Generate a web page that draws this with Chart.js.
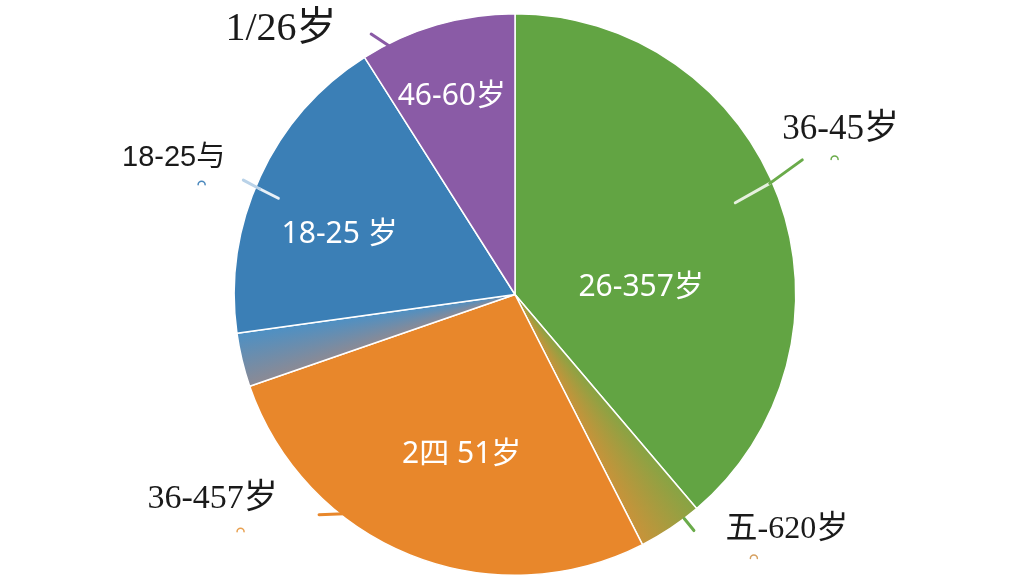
<!DOCTYPE html>
<html>
<head>
<meta charset="utf-8">
<script src="https://cdn.jsdelivr.net/npm/chart.js@4.4.1/dist/chart.umd.min.js"></script>
<style>
  html, body { margin: 0; padding: 0; background: #fff; }
  #wrap { width: 1024px; height: 576px; position: relative; }
</style>
</head>
<body>
<div id="wrap"><canvas id="age-pie"></canvas></div>
<script>
// slices, clockwise from 12 o'clock
const sliceNames = ["26-357岁", "五-620岁", "2四 51岁", "", "18-25 岁", "46-60岁"];
const shares = [38.8, 3.7, 27.2, 3.1, 18.2, 9.0];
const innerLabels = ["26-357岁", "", "2四 51岁", "", "18-25 岁", "46-60岁"];
const outerLabels = ["36-45岁", "五-620岁", "36-457岁", "", "18-25与", "1/26岁"];

const COLORS = {
  GREEN: "#62a443",
  ORANGE: "#e8872b",
  BLUE: "#3b7fb6",
  PURPLE: "#8a5ba6",
};

// two blended slices: [colour at start angle, colour at end angle]
const blends = {
  1: ["#86a444", "#c8933a"],
  3: ["#8c8a94", "#4d90c4"],
};
const solid = [COLORS.GREEN, null, COLORS.ORANGE, null, COLORS.BLUE, COLORS.PURPLE];

// label placement: [angle offset from slice middle (deg), radius factor]
const innerPos = [[17, 0.45], null, [-3.5, 0.6], null, [-6, 0.66], [-1.5, 0.74]];
const outerPos = [[-6.7, 1.3], [-15.5, 1.28], [34, 1.3], null, [-3, 1.31], [-25.2, 1.26]];
const outerFont = [
  '35px "Liberation Serif", "Noto Sans CJK SC"',
  '32px "Liberation Serif", "Noto Sans CJK SC"',
  '34px "Liberation Serif", "Noto Sans CJK SC"',
  null,
  '29px "Liberation Sans", "Noto Sans CJK SC"',
  '40px "Liberation Serif", "Noto Sans CJK SC"',
];
// small hook marks under some outer labels: [dx, dy, colour]
const hooks = [[-6, 27, "#6aab4a"], [-33, 26, "#d6a060"], [28, 30, "#e8a050"], null, [28, 24, "#4a88bd"], null];
// leader strokes: [slice, offA, rA, offB, rB, colour]
const leaders = [
  [0, -2.45, 0.85, -3.4, 0.99, "#e6f0de"],
  [0, -3.4, 0.99, -4.95, 1.13, "#6aab4a"],
  [1, -3.4, 1.0, -3.5, 1.055, "#6aab4a"],
  [2, 16, 0.99, 19.7, 1.05, COLORS.ORANGE],
  [4, -2.7, 0.91, -2.35, 0.985, "#e8f0f7"],
  [4, -2.35, 0.985, -2.0, 1.05, "#b9d2e8"],
  [5, -10.4, 0.985, -12.7, 1.06, COLORS.PURPLE],
];

const total = shares.reduce((a, b) => a + b, 0);

function sliceColor(context) {
  const i = context.dataIndex;
  if (solid[i]) return solid[i];
  const chart = context.chart;
  const area = chart.chartArea;
  if (!area) return blends[i][1];
  const before = shares.slice(0, i).reduce((a, b) => a + b, 0);
  const f0 = before / total;
  const f1 = (before + shares[i]) / total;
  const cx = (area.left + area.right) / 2;
  const cy = (area.top + area.bottom) / 2;
  const g = chart.ctx.createConicGradient(-Math.PI / 2, cx, cy);
  g.addColorStop(f0, blends[i][0]);
  g.addColorStop(f1, blends[i][1]);
  return g;
}

const labelPlugin = {
  id: "ageLabels",
  afterDatasetsDraw(chart) {
    const ctx = chart.ctx;
    const arcs = chart.getDatasetMeta(0).data;
    const at = (arc, offDeg, rf) => {
      const a = (arc.startAngle + arc.endAngle) / 2 + (offDeg * Math.PI) / 180;
      return {
        x: arc.x + Math.cos(a) * arc.outerRadius * rf,
        y: arc.y + Math.sin(a) * arc.outerRadius * rf,
      };
    };
    ctx.save();
    ctx.lineCap = "round";
    leaders.forEach(([i, oa, ra, ob, rb, c]) => {
      const p = at(arcs[i], oa, ra);
      const q = at(arcs[i], ob, rb);
      ctx.beginPath();
      ctx.moveTo(p.x, p.y);
      ctx.lineTo(q.x, q.y);
      ctx.strokeStyle = c;
      ctx.lineWidth = 3;
      ctx.stroke();
    });

    ctx.textAlign = "center";
    ctx.textBaseline = "middle";
    innerLabels.forEach((t, i) => {
      if (!t || !innerPos[i]) return;
      const p = at(arcs[i], innerPos[i][0], innerPos[i][1]);
      ctx.font = '30px "Noto Sans", "Noto Sans CJK SC"';
      ctx.fillStyle = "#ffffff";
      ctx.fillText(t, p.x, p.y);
    });
    outerLabels.forEach((t, i) => {
      if (!t || !outerPos[i]) return;
      const p = at(arcs[i], outerPos[i][0], outerPos[i][1]);
      ctx.font = outerFont[i];
      ctx.fillStyle = "#1a1a1a";
      ctx.fillText(t, p.x, p.y);
      if (hooks[i]) {
        const [dx, dy, c] = hooks[i];
        ctx.beginPath();
        ctx.arc(p.x + dx, p.y + dy + 3, 3.5, Math.PI, 2 * Math.PI);
        ctx.strokeStyle = c;
        ctx.lineWidth = 1.5;
        ctx.stroke();
      }
    });
    ctx.restore();
  },
};

new Chart(document.getElementById("age-pie"), {
  type: "pie",
  plugins: [labelPlugin],
  data: {
    labels: sliceNames,
    datasets: [
      {
        data: shares,
        backgroundColor: sliceColor,
        borderColor: "#ffffff",
        borderWidth: 1.5,
      },
    ],
  },
  options: {
    responsive: true,
    maintainAspectRatio: false,
    animation: false,
    layout: {
      padding: { top: 13, bottom: 0, left: 6, right: 0 },
    },
    plugins: {
      legend: { display: false },
      tooltip: { enabled: false },
    },
  },
});
</script>
</body>
</html>
